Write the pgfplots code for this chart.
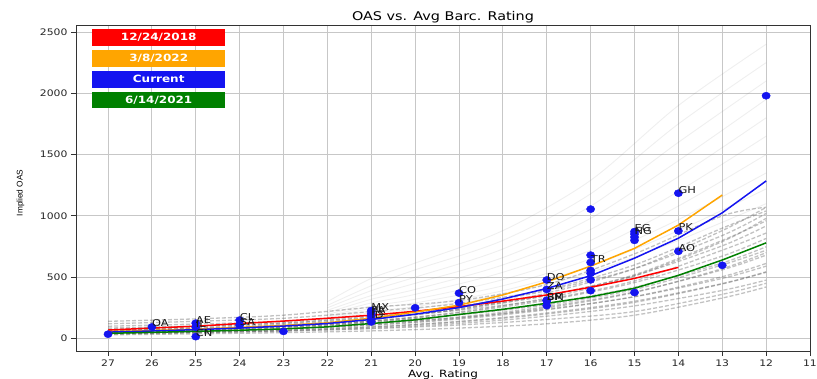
\documentclass[border=0pt]{standalone}
\usepackage{pgfplots}
\pgfplotsset{compat=1.18}
\usepackage{pgfplotstable}
\usepackage{fontspec}
\setmainfont{DejaVu Sans}[FakeStretch=1.2]
\newfontfamily\ylfont{Liberation Sans}

\definecolor{cRed}{RGB}{255,0,0}
\definecolor{cOrange}{RGB}{255,165,0}
\definecolor{cBlue}{RGB}{20,20,240}
\definecolor{cGreen}{RGB}{0,128,0}

% issuers: rating, OAS, country code
\pgfplotstableread{
x y label
27 35 {}
26 94 OA
25 125 AE
25 92 IL
25 15 CN
24 150 CL
24 110 SA
23 58 {}
21 228 MX
21 205 PA
21 185 PE
21 160 ID
21 135 {}
20 250 {}
19 370 CO
19 292 PY
17 477 DO
17 400 ZA
17 312 BR
17 308 SM
17 268 {}
16 1055 {}
16 680 {}
16 620 TR
16 555 {}
16 532 {}
16 478 {}
16 390 {}
15 872 EG
15 852 NG
15 826 {}
15 800 {}
15 375 {}
14 1185 GH
14 877 PK
14 711 AO
13 597 {}
12 1980 {}
}\issuers

% fitted curves
\pgfplotstableread{
x y
27 69
26 85
25 100
24 122
23 142
22 165
21 190
20 222
19 260
18 305
17 355
16 418
15 490
14 580
}\fitA
\pgfplotstableread{
x y
27 56
26 65
25 76
24 90
23 106
22 128
21 165
20 215
19 272
18 355
17 462
16 590
15 735
14 925
13 1170
}\fitB
\pgfplotstableread{
x y
27 52
26 61
25 72
24 85
23 101
22 122
21 155
20 198
19 252
18 322
17 408
16 512
15 655
14 818
13 1025
12 1285
}\fitC
\pgfplotstableread{
x y
27 42
26 50
25 58
24 67
23 78
22 95
21 122
20 152
19 196
18 238
17 287
16 340
15 410
14 515
13 640
12 780
}\fitD

% historical fits (dense band)
\pgfplotstableread{
x d1 d2 d3 d4 d5 d6 d7 d8 d9 d10 d11 d12 d13 d14 d15 d16 d17 d18 d19 d20
27 35 40 45 50 55 60 68 75 50 55 30 40 60 45 65 38 100 120 140 85
25 46 52 59 65 72 78 88 98 68 75 38 50 75 60 82 50 118 140 160 102
23 60 68 77 85 94 102 115 128 95 105 48 62 95 80 105 66 140 165 190 125
21 84 96 108 120 132 144 162 180 140 155 62 80 125 112 140 92 190 220 255 170
19 123 140 158 175 193 210 236 263 215 240 85 110 170 165 195 135 250 285 310 230
17 182 208 234 260 286 312 351 390 330 370 120 155 240 250 275 200 350 400 440 320
15 266 304 342 380 418 456 513 570 510 570 190 220 340 375 400 295 520 600 690 470
13 392 448 504 560 616 672 756 840 790 880 330 360 490 570 600 445 800 900 1000 720
12 476 544 612 680 748 816 918 1020 980 1070 420 450 590 700 720 540 960 1040 1070 860
}\dense

% historical fits (steep, short history)
\pgfplotstableread{
x f1 f2 f3 f4 f5 f6 f7 f8 f9 f10
22 300 270 250 230 210 195 180 170 160 150
21 490 430 390 350 320 290 265 245 225 210
20 615 560 500 450 400 360 320 290 260 240
18 880 800 730 660 600 540 480 430 390 360
16 1290 1180 1080 980 890 800 720 650 590 540
14 1900 1750 1600 1450 1320 1200 1080 970 880 800
12 2400 2250 2100 1950 1800 1650 1500 1350 1220 1100
}\faint

\begin{document}
\begin{tikzpicture}
\useasboundingbox (0,0) rectangle (817pt,379pt);
\begin{axis}[
  name=ax,
  at={(76pt,28pt)}, anchor=south west,
  scale only axis, width=734pt, height=326pt,
  x dir=reverse,
  xmin=11, xmax=27.73, ymin=-102, ymax=2557,
  xtick={11,...,27}, ytick={0,500,...,2500},
  grid=major,
  major grid style={draw=black!22, line width=0.8pt},
  axis line style={draw=black!80, line width=0.8pt},
  tick style={draw=black!80, line width=0.8pt},
  major tick length=5pt, tick align=outside,
  xtick pos=left, ytick pos=left,
  ticklabel style={font=\fontsize{9}{10}\selectfont, text=black!85},
  /pgf/number format/assume math mode=true,
  /pgf/number format/1000 sep={},
  every axis title shift=0pt,
  title={OAS vs. Avg Barc. Rating},
  title style={at={(axis description cs:0.5,1.0132)}, anchor=base,
    font=\fontsize{12}{14}\selectfont, inner sep=0pt},
  xlabel={Avg. Rating},
  xlabel style={at={(axis description cs:0.5,-0.082)}, anchor=base,
    font=\fontsize{10}{12}\selectfont, inner sep=0pt},
  ylabel={Implied OAS},
  ylabel style={at={(axis description cs:-0.0757,0.485)}, anchor=center,
    font=\ylfont\fontsize{8.3}{10}\selectfont, inner sep=0pt},
]
% issuer points
\addplot[only marks, mark=*, color=cBlue, mark size=3.6pt,
  mark options={xscale=1.15}] table[x=x,y=y] {\issuers};

% historical fits
\pgfplotsinvokeforeach{f1,f2,f3,f4,f5,f6,f7,f8,f9,f10}{
  \addplot[smooth, draw=black!50, opacity=0.13, line width=0.9pt]
    table[x=x,y=#1] {\faint};
}
\pgfplotsinvokeforeach{d1,d2,d3,d4,d5,d6,d7,d8,d9,d10,d11,d12,d13,d14,d15,d16,d17,d18,d19,d20}{
  \addplot[smooth, draw=black!60, opacity=0.4, line width=1.3pt,
    dash pattern=on 4pt off 2pt] table[x=x,y=#1] {\dense};
}

% dated fits
\addplot[cRed, line width=1.5pt] table[x=x,y=y] {\fitA};
\addplot[cOrange, line width=1.5pt] table[x=x,y=y] {\fitB};
\addplot[cBlue, line width=1.5pt] table[x=x,y=y] {\fitC};
\addplot[cGreen, line width=1.5pt] table[x=x,y=y] {\fitD};

% country codes
\addplot[only marks, mark=none, nodes near coords,
  point meta=explicit symbolic,
  nodes near coords style={anchor=base west, inner sep=0pt,
    font=\fontsize{9.5}{10}\selectfont, text=black!90}]
  table[x=x,y=y,meta=label] {\issuers};
\end{axis}

\begin{scope}[every node/.style={anchor=north west, minimum width=133pt,
    minimum height=16.5pt, inner sep=0pt, text=white,
    font=\bfseries\fontsize{10}{12}\selectfont}]
  \node[fill=cRed]    at ([xshift=16pt,yshift=-4.3pt]ax.north west) {12/24/2018};
  \node[fill=cOrange] at ([xshift=16pt,yshift=-25.1pt]ax.north west) {3/8/2022};
  \node[fill=cBlue]   at ([xshift=16pt,yshift=-45.9pt]ax.north west) {Current};
  \node[fill=cGreen]  at ([xshift=16pt,yshift=-66.7pt]ax.north west) {6/14/2021};
\end{scope}
\end{tikzpicture}
\end{document}
